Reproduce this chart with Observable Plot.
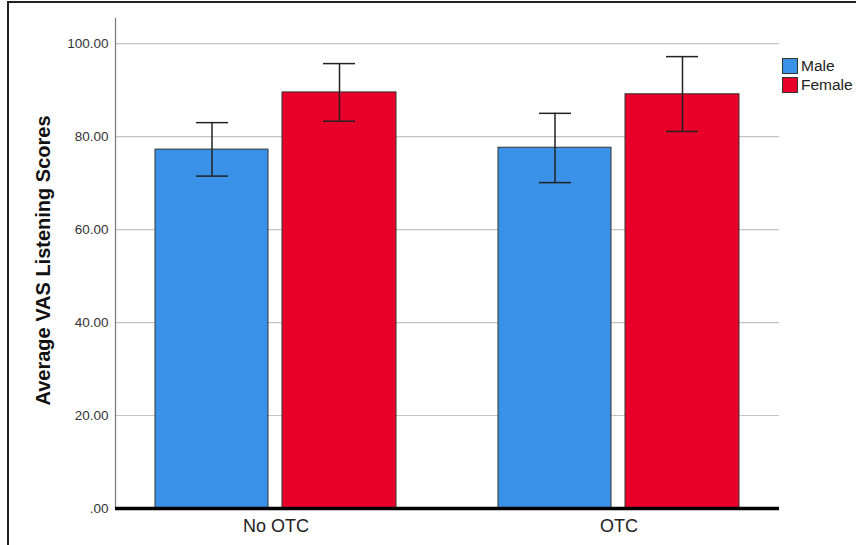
<!DOCTYPE html>
<html>
<head>
<meta charset="utf-8">
<script src="https://cdn.jsdelivr.net/npm/d3@7"></script>
<script src="https://cdn.jsdelivr.net/npm/@observablehq/plot@0.6"></script>
<style>
  html, body { margin: 0; padding: 0; background: #fff; overflow: hidden; }
  #wrap { position: relative; width: 856px; height: 545px; overflow: hidden; font-family: "Liberation Sans", Arial, sans-serif; }
  #frame { position: absolute; left: 7px; top: 1px; width: 900px; height: 600px; border: 2px solid #222; box-sizing: border-box; }
  #chart { position: absolute; left: 0; top: 0; }
  .leg { position: absolute; left: 782px; display: flex; align-items: center; font-size: 15.5px; color: #222; }
  .leg span.sw { width: 14px; height: 14px; border: 1px solid #333; margin-right: 3px; display: inline-block; }
</style>
</head>
<body>
<div id="wrap">
  <div id="frame"></div>
  <div id="chart"></div>
  <div id="legend"></div>
</div>
<script>
const groups = ["No OTC", "OTC"];
const series = ["Male", "Female"];
const colors = ["#3a92e8", "#e8002a"];
const maleMean = [77.2, 77.6];
const maleLower = [71.5, 70.1];
const maleUpper = [83.0, 85.0];
const femaleMean = [89.5, 89.1];
const femaleLower = [83.3, 81.1];
const femaleUpper = [95.7, 97.2];
const yTicks = [0, 20, 40, 60, 80, 100];
const yLabel = "Average VAS Listening Scores";

const male = groups.map((g, i) => ({group: g, mean: maleMean[i], lo: maleLower[i], hi: maleUpper[i]}));
const female = groups.map((g, i) => ({group: g, mean: femaleMean[i], lo: femaleLower[i], hi: femaleUpper[i]}));

const fmt = v => v === 0 ? ".00" : v.toFixed(2);

const chart = Plot.plot({
  width: 856,
  height: 545,
  marginLeft: 115,
  marginRight: 77,
  marginTop: 18,
  marginBottom: 37,
  style: {fontFamily: "'Liberation Sans', Arial, sans-serif", background: "transparent"},
  x: {domain: groups, paddingInner: 0.296, paddingOuter: 0.114, axis: null},
  y: {domain: [0, 105.4], axis: null},
  marks: [
    Plot.gridY(yTicks.filter(d => d > 0), {stroke: "#c4c4c4", strokeOpacity: 1, strokeWidth: 1.2}),
    Plot.frame({anchor: "left", stroke: "#777", strokeWidth: 1.2}),
    Plot.axisY(yTicks, {tickSize: 0, tickPadding: 7, tickFormat: fmt, fontSize: 13.5, fill: "#333", label: null}),
    Plot.axisX({tickSize: 0, tickPadding: 11, fontSize: 18, fill: "#222", label: null}),
    Plot.text([yLabel], {frameAnchor: "left", textAnchor: "middle", rotate: -90, dx: -72, dy: -3, fontSize: 20, fontWeight: "bold", fill: "#111"}),
    Plot.barY(male, {x: "group", y: "mean", fill: colors[0], stroke: "#333", strokeWidth: 1, insetRight: 128}),
    Plot.barY(female, {x: "group", y: "mean", fill: colors[1], stroke: "#333", strokeWidth: 1, insetLeft: 127}),
    Plot.ruleX(male, {x: "group", y1: "lo", y2: "hi", dx: -64, stroke: "#222", strokeWidth: 1.5}),
    Plot.tickY(male, {x: "group", y: "hi", insetLeft: 41, insetRight: 168, stroke: "#222", strokeWidth: 1.5}),
    Plot.tickY(male, {x: "group", y: "lo", insetLeft: 41, insetRight: 168, stroke: "#222", strokeWidth: 1.5}),
    Plot.ruleX(female, {x: "group", y1: "lo", y2: "hi", dx: 63.5, stroke: "#222", strokeWidth: 1.5}),
    Plot.tickY(female, {x: "group", y: "hi", insetLeft: 168, insetRight: 41, stroke: "#222", strokeWidth: 1.5}),
    Plot.tickY(female, {x: "group", y: "lo", insetLeft: 168, insetRight: 41, stroke: "#222", strokeWidth: 1.5}),
    Plot.ruleY([0], {stroke: "#000", strokeWidth: 3.5})
  ]
});
document.getElementById("chart").appendChild(chart);

const legend = document.getElementById("legend");
series.forEach((s, i) => {
  const d = document.createElement("div");
  d.className = "leg";
  d.style.top = (57 + i * 19) + "px";
  const sw = document.createElement("span");
  sw.className = "sw";
  sw.style.background = colors[i];
  d.appendChild(sw);
  d.appendChild(document.createTextNode(s));
  legend.appendChild(d);
});
</script>
</body>
</html>
